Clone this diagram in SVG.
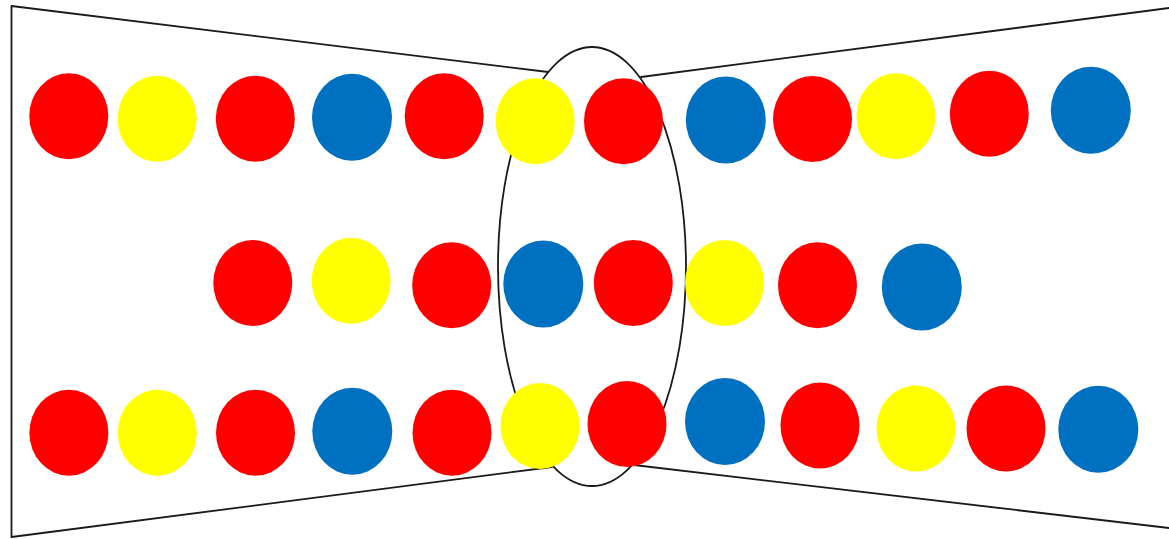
<svg xmlns="http://www.w3.org/2000/svg" width="1169" height="539" viewBox="0 0 1169 539">
<style>
.ln{fill:none;stroke:#1a1a1a;stroke-width:1.8;stroke-linecap:round;stroke-linejoin:round}
.r{fill:#FF0000}
.y{fill:#FFFF00}
.b{fill:#0070C0}
</style>
<rect width="1169" height="539" fill="#fff"/>
<g id="connectors">
<polyline class="ln" points="548,72 11.5,6 11.5,537 552,467"/>
<line class="ln" x1="641" y1="77" x2="1169" y2="8"/>
<line class="ln" x1="634" y1="465" x2="1169" y2="528"/>
<ellipse class="ln" cx="592" cy="266.5" rx="94" ry="219.5"/>
</g>
<g id="row1">
<g id="r1c1"><ellipse class="r" cx="68.8" cy="116.3" rx="39.5" ry="43"/></g>
<g id="r1c2"><ellipse class="y" cx="157.2" cy="118.7" rx="39.5" ry="43"/></g>
<g id="r1c3"><ellipse class="r" cx="255.3" cy="118.7" rx="39.5" ry="43"/></g>
<g id="r1c4"><ellipse class="b" cx="352" cy="117.3" rx="40" ry="43.5"/></g>
<g id="r1c5"><ellipse class="r" cx="444.2" cy="116.3" rx="39.5" ry="43"/></g>
<g id="r1c6"><ellipse class="y" cx="535.2" cy="121.2" rx="39.5" ry="43"/></g>
<g id="r1c7"><ellipse class="r" cx="623.5" cy="121.2" rx="39.5" ry="43"/></g>
<g id="r1c8"><ellipse class="b" cx="725.8" cy="120" rx="40" ry="43.5"/></g>
<g id="r1c9"><ellipse class="r" cx="812.5" cy="119" rx="39.5" ry="43"/></g>
<g id="r1c10"><ellipse class="y" cx="896" cy="116.3" rx="39.5" ry="43"/></g>
<g id="r1c11"><ellipse class="r" cx="989.3" cy="113.8" rx="39.5" ry="43"/></g>
<g id="r1c12"><ellipse class="b" cx="1090.8" cy="110.3" rx="40" ry="43.5"/></g>
</g>
<g id="row2">
<g id="r2c1"><ellipse class="r" cx="252.8" cy="283" rx="39.5" ry="43"/></g>
<g id="r2c2"><ellipse class="y" cx="351.2" cy="280.8" rx="39.5" ry="43"/></g>
<g id="r2c3"><ellipse class="r" cx="451.7" cy="285.3" rx="39.5" ry="43"/></g>
<g id="r2c4"><ellipse class="b" cx="543.3" cy="284" rx="40" ry="43.5"/></g>
<g id="r2c5"><ellipse class="r" cx="633.3" cy="283" rx="39.5" ry="43"/></g>
<g id="r2c6"><ellipse class="y" cx="724.5" cy="283" rx="39.5" ry="43"/></g>
<g id="r2c7"><ellipse class="r" cx="817.5" cy="285.3" rx="39.5" ry="43"/></g>
<g id="r2c8"><ellipse class="b" cx="921.8" cy="287" rx="40" ry="43.5"/></g>
</g>
<g id="row3">
<g id="r3c1"><ellipse class="r" cx="68.9" cy="432.7" rx="39.5" ry="43"/></g>
<g id="r3c2"><ellipse class="y" cx="157.3" cy="432.7" rx="39.5" ry="43"/></g>
<g id="r3c3"><ellipse class="r" cx="255.5" cy="432.7" rx="39.5" ry="43"/></g>
<g id="r3c4"><ellipse class="b" cx="352.3" cy="431.3" rx="40" ry="43.5"/></g>
<g id="r3c5"><ellipse class="r" cx="452" cy="432.7" rx="39.5" ry="43"/></g>
<g id="r3c6"><ellipse class="y" cx="540" cy="426" rx="39.5" ry="43"/></g>
<g id="r3c7"><ellipse class="r" cx="627" cy="424" rx="39.5" ry="43"/></g>
<g id="r3c8"><ellipse class="b" cx="725" cy="421.5" rx="40" ry="43.5"/></g>
<g id="r3c9"><ellipse class="r" cx="820" cy="425.5" rx="39.5" ry="43"/></g>
<g id="r3c10"><ellipse class="y" cx="916" cy="428.5" rx="39.5" ry="43"/></g>
<g id="r3c11"><ellipse class="r" cx="1006" cy="428.5" rx="39.5" ry="43"/></g>
<g id="r3c12"><ellipse class="b" cx="1098.3" cy="429.3" rx="40" ry="43.5"/></g>
</g>
</svg>
